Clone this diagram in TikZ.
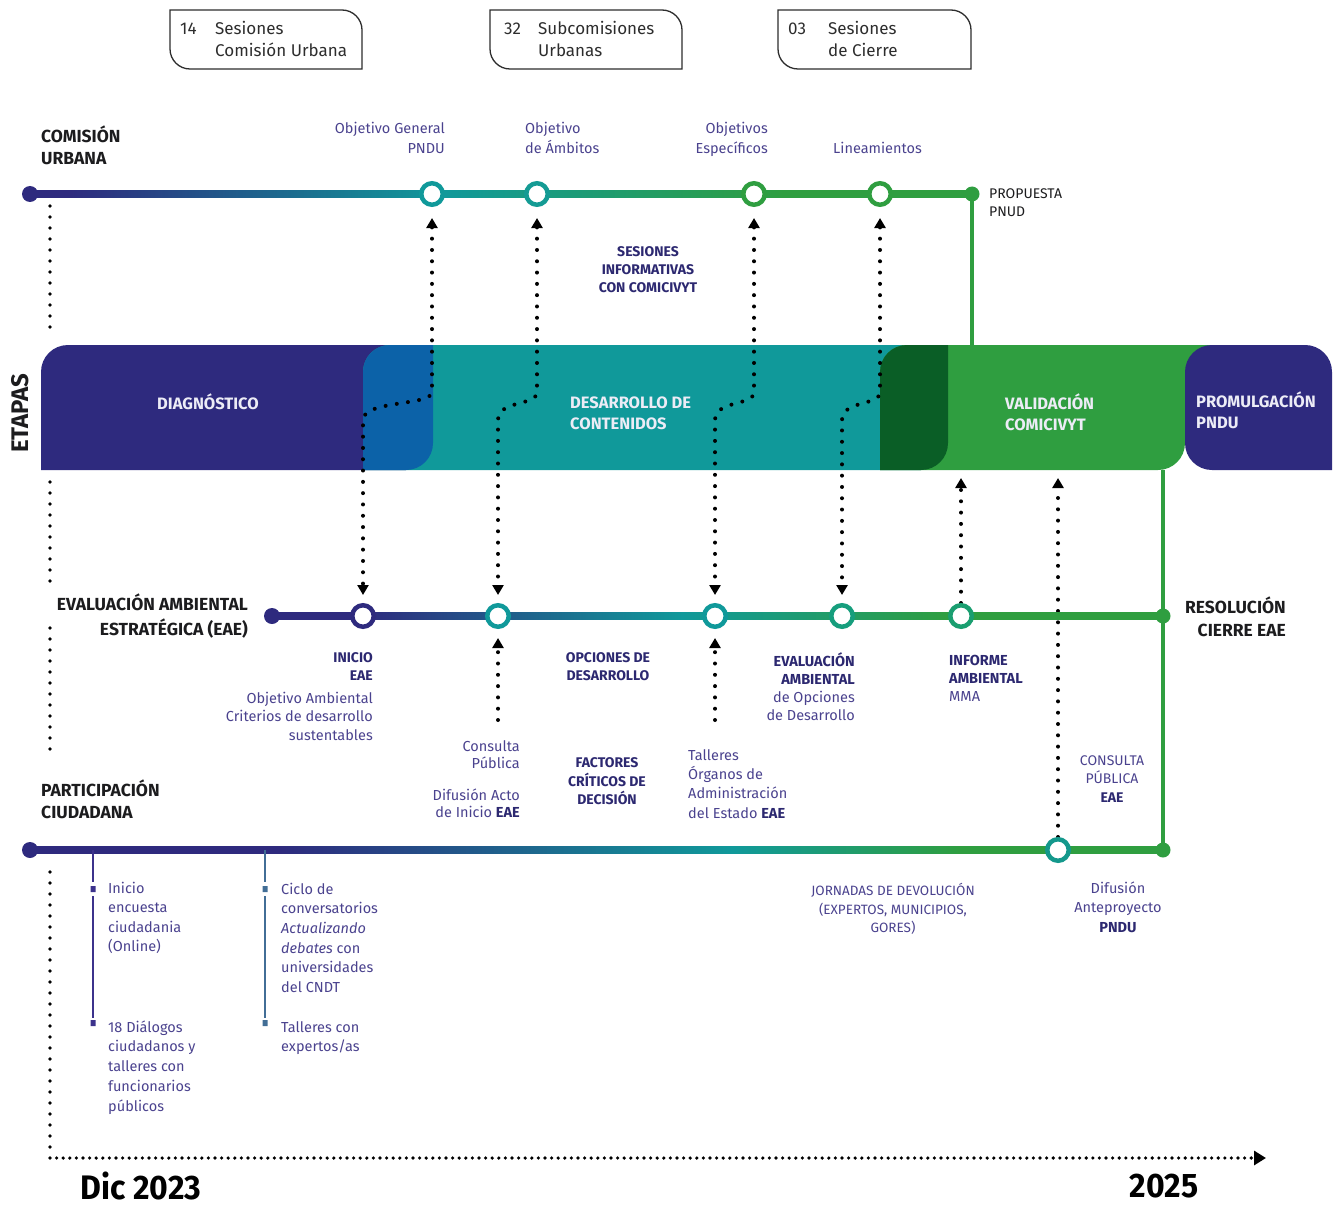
\documentclass[tikz,border=0pt]{standalone}
\usepackage{fontspec}
\usepackage{graphicx}
\setmainfont{Fira Sans}
\usetikzlibrary{arrows.meta}
\pgfdeclarelayer{bg}
\pgfdeclarelayer{dots}
\pgfdeclarelayer{lines}
\pgfsetlayers{bg,dots,lines,main}

\definecolor{navyc}{RGB}{46,42,126}
\definecolor{tealc}{RGB}{16,153,154}
\definecolor{teal2}{RGB}{20,155,148}
\definecolor{teal3}{RGB}{20,152,140}
\definecolor{tg1}{RGB}{22,158,125}
\definecolor{tg2}{RGB}{26,158,112}
\definecolor{greenc}{RGB}{47,158,64}
\definecolor{bluec}{RGB}{12,98,168}
\definecolor{dgreenc}{RGB}{10,94,38}
\definecolor{labc}{RGB}{74,66,142}
\definecolor{boldc}{RGB}{44,40,112}
\definecolor{headc}{RGB}{28,28,30}
\definecolor{bandtxt}{RGB}{236,236,246}
\definecolor{brnavy}{RGB}{60,50,140}
\definecolor{steelc}{RGB}{66,110,150}
\definecolor{boxc}{RGB}{45,45,45}

\pgfdeclarehorizontalshading{gradCU}{100bp}{color(0bp)=(navyc); color(27bp)=(navyc); color(47bp)=(tealc); color(65bp)=(greenc); color(100bp)=(greenc)}
\pgfdeclarehorizontalshading{gradEA}{100bp}{color(0bp)=(navyc); color(30bp)=(navyc); color(48bp)=(tealc); color(63bp)=(greenc); color(100bp)=(greenc)}
\pgfdeclarehorizontalshading{gradPC}{100bp}{color(0bp)=(navyc); color(36bp)=(navyc); color(56bp)=(tealc); color(66bp)=(greenc); color(100bp)=(greenc)}

\newcommand\leafpath[2]{(#1,470) -- (#1,372) .. controls (#1,357) and (#1+12,345) .. (#1+27,345) -- (#2,345) -- (#2,443) .. controls (#2,458) and (#2-12,470) .. (#2-27,470) -- cycle}
\newcommand\tagbox[2]{(#1,10) -- (#2-20,10) .. controls (#2-9,10) and (#2,19) .. (#2,30) -- (#2,69) -- (#1+20,69) .. controls (#1+9,69) and (#1,60) .. (#1,49) -- cycle}

\begin{document}
\begin{tikzpicture}[x=1pt,y=-1pt,
  tx/.style n args={2}{font=\fontsize{#1}{#2}\selectfont, inner sep=0pt, yshift={0.7*#2-0.3445*#1}},
  bx/.style n args={2}{font=\fontsize{#1}{#2}\selectfont\bfseries, inner sep=0pt, yshift={0.7*#2-0.3445*#1}},
  >={Triangle[width=11pt,length=10pt]},
  dotline/.style={black, line width=4pt, dash pattern=on 0pt off 11.3pt, line cap=round},
  enddot/.style={circle, fill=#1, minimum size=16pt, inner sep=0pt, outer sep=0pt},
  ocirc/.style={circle, draw=#1, fill=white, line width=4.5pt, minimum size=21.5pt, inner sep=0pt},
]
\useasboundingbox (0,0) rectangle (1335,1209);

% ---------- top tag boxes
\draw[boxc, line width=1.3pt] \tagbox{170}{362};
\draw[boxc, line width=1.3pt] \tagbox{490}{682};
\draw[boxc, line width=1.3pt] \tagbox{778}{971};
\node[tx={17}{22}, text=boxc, anchor=north west] (n14) at (180,28) {\strut 14};
\node[tx={17}{22}, text=boxc, anchor=north west, align=left] (b14) at (215,28) {\strut Sesiones\\Comisión Urbana};
\node[tx={17}{22}, text=boxc, anchor=north west] (n32) at (504,28) {\strut 32};
\node[tx={17}{22}, text=boxc, anchor=north west, align=left] (b32) at (538,28) {\strut Subcomisiones\\Urbanas};
\node[tx={17}{22}, text=boxc, anchor=north west] (n03) at (788,28) {\strut 03};
\node[tx={17}{22}, text=boxc, anchor=north west, align=left] (b03) at (828,28) {\strut Sesiones\\de Cierre};

% ---------- coordinates
\coordinate (bandTop) at (972,345);
\coordinate (bandBot) at (1163,470);
\coordinate (bb1) at (961,470);
\coordinate (bb2) at (1058,470);
\coordinate (cP1) at (498,720);
\coordinate (cP2) at (715,720);

% ---------- line nodes
\node[enddot=navyc] (cuS) at (30,194) {};
\node[enddot=greenc, minimum size=15pt] (cuE) at (972,194) {};
\node[ocirc=tealc] (cu1) at (432,194) {};
\node[ocirc=teal2] (cu2) at (537,194) {};
\node[ocirc=greenc] (cu3) at (754,194) {};
\node[ocirc=greenc] (cu4) at (880,194) {};

\node[enddot=navyc] (eaS) at (272,616) {};
\node[enddot=greenc, minimum size=15pt] (eaE) at (1163,616) {};
\node[ocirc=navyc] (ea1) at (363,616) {};
\node[ocirc=tealc] (ea2) at (498,616) {};
\node[ocirc=tealc] (ea3) at (715,616) {};
\node[ocirc=tg1] (ea4) at (842,616) {};
\node[ocirc=tg2] (ea5) at (961,616) {};

\node[enddot=navyc] (pcS) at (30,850) {};
\node[enddot=greenc, minimum size=15pt] (pcE) at (1163,850) {};
\node[ocirc=teal3] (pc1) at (1058,850) {};

% ---------- band
\begin{pgfonlayer}{bg}
\fill[navyc] \leafpath{41}{433};
\fill[tealc] \leafpath{363}{948};
\begin{scope}
\clip \leafpath{41}{433};
\fill[bluec] \leafpath{363}{948};
\end{scope}
\fill[greenc] (1180,345) rectangle (1215,375);
\fill[greenc] \leafpath{880}{1185};
\begin{scope}
\clip \leafpath{363}{948};
\fill[dgreenc] \leafpath{880}{1185};
\end{scope}
\fill[navyc] (1185,443) -- (1185,372) .. controls (1185,357) and (1197,345) .. (1212,345) -- (1305,345) .. controls (1320,345) and (1332,357) .. (1332,372) -- (1332,470) -- (1212,470) .. controls (1197,470) and (1185,458) .. (1185,443) -- cycle;
\end{pgfonlayer}

% ---------- dotted connectors and axis
\begin{pgfonlayer}{dots}
\draw[dotline, line width=3.6pt, dash pattern=on 0pt off 11pt] (50,206) -- (50,336);
\draw[dotline, line width=3.6pt, dash pattern=on 0pt off 11pt] (50,482) -- (50,592);
\draw[dotline, line width=3.6pt, dash pattern=on 0pt off 11pt] (50,628) -- (50,758);
\draw[dotline, line width=3.6pt, dash pattern=on 0pt off 11pt] (50,872) -- (50,1150);
\draw[dotline, line width=3.6pt, dash pattern=on 0pt off 6.6pt, -{Triangle[width=14pt,length=12pt]}] (50,1158) -- (1266,1158);

\draw[dotline, <->, shorten <=11pt, shorten >=8pt] (cu1.south) -- (432,392) .. controls (432,406) and (363,400) .. (363,420) -- (ea1.north);
\draw[dotline, <->, shorten <=11pt, shorten >=8pt] (cu2.south) -- (537,392) .. controls (537,406) and (498,400) .. (498,420) -- (ea2.north);
\draw[dotline, <->, shorten <=11pt, shorten >=8pt] (cu3.south) -- (754,392) .. controls (754,406) and (715,400) .. (715,420) -- (ea3.north);
\draw[dotline, <->, shorten <=11pt, shorten >=8pt] (cu4.south) -- (880,392) .. controls (880,406) and (842,400) .. (842,420) -- (ea4.north);
\draw[dotline, ->, shorten >=8pt] (ea5.north) -- (bb1);
\draw[dotline, ->, shorten >=8pt] (pc1.north) -- (bb2);
\draw[dotline, ->, shorten >=9pt] (cP1) -- (ea2.south);
\draw[dotline, ->, shorten >=9pt] (cP2) -- (ea3.south);
\end{pgfonlayer}

% ---------- timelines
\begin{pgfonlayer}{lines}
\draw[greenc, line width=3.2pt] (cuE.center) -- (bandTop);
\draw[greenc, line width=3.5pt] (bandBot) -- (pcE.center);
\shade[shading=gradCU] ([yshift=3.5pt]cuS.center) rectangle ([yshift=-3.5pt]cuE.center);
\shade[shading=gradEA] ([yshift=3.5pt]eaS.center) rectangle ([yshift=-3.5pt]eaE.center);
\shade[shading=gradPC] ([yshift=3.5pt]pcS.center) rectangle ([yshift=-3.5pt]pcE.center);
\draw[brnavy, line width=2.5pt] (93,850) -- (93,882) (93,896) -- (93,1018);
\fill[brnavy] (90.5,886) rectangle (95.5,892) (90.5,1020) rectangle (95.5,1026);
\draw[steelc, line width=2.5pt] (265,850) -- (265,882) (265,896) -- (265,1018);
\fill[steelc] (262.5,886) rectangle (267.5,892) (262.5,1020) rectangle (267.5,1026);
\end{pgfonlayer}

% ---------- texts: comision urbana
\node[bx={17.5}{22}, text=headc, anchor=north west, align=left] (hCU) at (41,135) {\strut COMISIÓN\\URBANA};
\node[tx={14.5}{20}, text=labc, anchor=north east, align=right] (lObjG) at (445,128) {\strut Objetivo General\\PNDU};
\node[tx={14.5}{20}, text=labc, anchor=north west, align=left] (lObjA) at (525,128) {\strut Objetivo\\de Ámbitos};
\node[tx={14.5}{20}, text=labc, anchor=north east, align=right] (lObjE) at (768,128) {\strut Objetivos\\Específicos};
\node[tx={14.5}{20}, text=labc, anchor=north west] (lLin) at (833,148) {\strut Lineamientos};
\node[tx={14}{18}, text=headc, anchor=north west, align=left] (lProp) at (989,193) {\strut PROPUESTA\\PNUD};
\node[bx={14}{18}, text=boldc, anchor=north, align=center] (lSes) at (648,251) {\strut SESIONES\\INFORMATIVAS\\CON COMICIVYT};

% ---------- band texts
\node[font=\fontsize{24}{24}\selectfont\bfseries, text=headc, inner sep=0pt, rotate=90] (etapas) at (20,413) {ETAPAS};
\node[bx={16.5}{21}, text=bandtxt, anchor=north] (tDiag) at (208,403) {\strut DIAGNÓSTICO};
\node[bx={16.5}{21}, text=bandtxt, anchor=north west, align=left] (tDes) at (570,403) {\strut DESARROLLO DE\\CONTENIDOS};
\node[bx={16.5}{21}, text=bandtxt, anchor=north west, align=left] (tVal) at (1005,403) {\strut VALIDACIÓN\\COMICIVYT};
\node[bx={16.5}{21}, text=bandtxt, anchor=north west, align=left] (tProm) at (1196,401) {\strut PROMULGACIÓN\\PNDU};

% ---------- EAE texts
\node[bx={17.5}{23}, text=headc, anchor=north east, align=right] (hEAE) at (248,604) {\strut EVALUACIÓN AMBIENTAL\\ESTRATÉGICA (EAE)};
\node[bx={17.5}{23}, text=headc, anchor=north east, align=right] (hRes) at (1286,607) {\strut RESOLUCIÓN\\CIERRE EAE};
\node[bx={14}{18}, text=boldc, anchor=north east, align=right] (lIni) at (373,657) {\strut INICIO\\EAE};
\node[tx={14.5}{18.5}, text=labc, anchor=north east, align=right] (lObjAmb) at (373,698) {\strut Objetivo Ambiental\\Criterios de desarrollo\\sustentables};
\node[bx={14}{18}, text=boldc, anchor=north, align=center] (lOpc) at (608,657) {\strut OPCIONES DE\\DESARROLLO};
\node[tx={14.5}{18}, text=labc, anchor=north east, align=right] (lEvA) at (855,660) {\strut\textcolor{boldc}{\bfseries EVALUACIÓN}\\\textcolor{boldc}{\bfseries AMBIENTAL}\\de Opciones\\de Desarrollo};
\node[tx={14.5}{18}, text=labc, anchor=north west, align=left] (lInf) at (949,660) {\strut\textcolor{boldc}{\bfseries INFORME}\\\textcolor{boldc}{\bfseries AMBIENTAL}\\MMA};
\node[tx={14.5}{17}, text=labc, anchor=north east, align=right] (lCons) at (520,746) {\strut Consulta\\Pública};
\node[tx={14.5}{17}, text=labc, anchor=north east, align=right] (lDif) at (520,795) {\strut Difusión Acto\\de Inicio \textcolor{boldc}{\bfseries EAE}};
\node[bx={14}{18}, text=boldc, anchor=north, align=center] (lFac) at (607,762) {\strut FACTORES\\CRÍTICOS DE\\DECISIÓN};
\node[tx={14.5}{19.3}, text=labc, anchor=north west, align=left] (lTal) at (688,755) {\strut Talleres\\Órganos de\\Administración\\del Estado \textcolor{boldc}{\bfseries EAE}};
\node[tx={14}{18.5}, text=labc, anchor=north, align=center] (lConsEAE) at (1112,760) {\strut CONSULTA\\PÚBLICA\\\textcolor{boldc}{\bfseries EAE}};

% ---------- participacion texts
\node[bx={17.5}{22}, text=headc, anchor=north west, align=left] (hPC) at (41,789) {\strut PARTICIPACIÓN\\CIUDADANA};
\node[tx={14.5}{19.5}, text=labc, anchor=north west, align=left] (lEnc) at (108,888) {\strut Inicio\\encuesta\\ciudadania\\(Online)};
\node[tx={14.5}{19.75}, text=labc, anchor=north west, align=left] (lDia) at (108,1027) {\strut 18 Diálogos\\ciudadanos y\\talleres con\\funcionarios\\públicos};
\node[tx={14.5}{19.6}, text=labc, anchor=north west, align=left] (lCic) at (281,889) {\strut Ciclo de\\conversatorios\\\textit{Actualizando}\\\textit{debates} con\\universidades\\del CNDT};
\node[tx={14.5}{19.5}, text=labc, anchor=north west, align=left] (lTalE) at (281,1027) {\strut Talleres con\\expertos/as};
\node[tx={13.5}{18.5}, text=labc, anchor=north, align=center] (lJor) at (893,891) {\strut JORNADAS DE DEVOLUCIÓN\\(EXPERTOS, MUNICIPIOS,\\GORES)};
\node[tx={14.5}{19.5}, text=labc, anchor=north, align=center] (lDifA) at (1118,888) {\strut Difusión\\Anteproyecto\\\textcolor{boldc}{\bfseries PNDU}};

% ---------- axis labels
\node[font=\fontsize{34}{36}\selectfont\bfseries, text=black, inner sep=0pt] (dic) at (141,1186) {\scalebox{0.94}[1]{Dic 2023}};
\node[font=\fontsize{34}{36}\selectfont\bfseries, text=black, inner sep=0pt] (y25) at (1164,1186) {\scalebox{0.94}[1]{2025}};
\end{tikzpicture}
\end{document}
